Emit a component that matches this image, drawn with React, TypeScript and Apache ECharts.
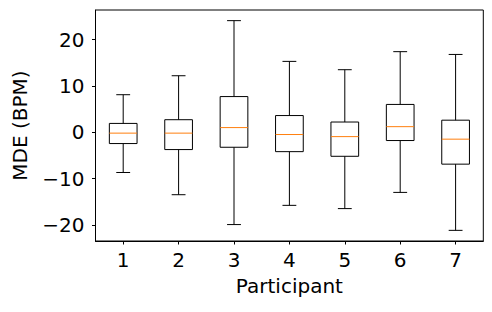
import React, { useEffect, useRef } from "react";
import * as echarts from "echarts";

const participants = ["1", "2", "3", "4", "5", "6", "7"];
const whiskerLow = [-8.7, -13.5, -19.95, -15.8, -16.5, -13.0, -21.2];
const q1 = [-2.45, -3.75, -3.25, -4.2, -5.2, -1.8, -6.9];
const medians = [-0.2, -0.2, 1.0, -0.5, -0.95, 1.2, -1.5];
const q3 = [1.9, 2.7, 7.7, 3.6, 2.2, 6.0, 2.6];
const whiskerHigh = [8.1, 12.2, 24.1, 15.3, 13.5, 17.4, 16.8];
const yTicks = [-20, -10, 0, 10, 20];

const FONT = "DejaVu Sans";

export default function App() {
  const ref = useRef<HTMLDivElement>(null);
  useEffect(() => {
    if (!ref.current) return;
    const chart = echarts.init(ref.current, undefined, { renderer: "svg" });
    const data = participants.map((p, i) => [i, whiskerLow[i], q1[i], medians[i], q3[i], whiskerHigh[i]]);
    chart.setOption({
      animation: false,
      grid: {
        left: 95.5,
        right: 8.7,
        top: 10,
        bottom: 71,
        show: true,
        borderColor: "#000",
        borderWidth: 1,
        backgroundColor: "transparent",
      },
      xAxis: {
        type: "category",
        data: participants,
        boundaryGap: true,
        name: "Participant",
        nameLocation: "middle",
        nameGap: 35,
        nameTextStyle: { fontFamily: FONT, fontSize: 20, color: "#000" },
        axisLine: { show: true, onZero: false, lineStyle: { color: "#000", width: 1 } },
        axisTick: { show: true, alignWithLabel: true, length: 3.5, lineStyle: { color: "#000" } },
        axisLabel: { fontFamily: FONT, fontSize: 20, color: "#000", margin: 9 },
        splitLine: { show: false },
      },
      yAxis: {
        type: "value",
        min: -23.5,
        max: 26.4,
        name: "MDE (BPM)",
        nameLocation: "middle",
        nameGap: 66,
        nameTextStyle: { fontFamily: FONT, fontSize: 20, color: "#000" },
        axisLine: { show: true, onZero: false, lineStyle: { color: "#000", width: 1 } },
        axisTick: { show: true, length: 3.5, lineStyle: { color: "#000" }, customValues: yTicks },
        axisLabel: {
          fontFamily: FONT,
          fontSize: 20,
          color: "#000",
          margin: 11,
          customValues: yTicks,
          formatter: (v: number) => (v < 0 ? "\u2212" + Math.abs(v) : String(v)),
        },
        splitLine: { show: false },
      },
      series: [
        {
          type: "custom",
          data,
          renderItem: (params: any, api: any) => {
            const idx = api.value(0);
            const band = api.size([1, 0])[0];
            const bw = band * 0.5;
            const cw = band * 0.25;
            const pLow = api.coord([idx, api.value(1)]);
            const pQ1 = api.coord([idx, api.value(2)]);
            const pMed = api.coord([idx, api.value(3)]);
            const pQ3 = api.coord([idx, api.value(4)]);
            const pHigh = api.coord([idx, api.value(5)]);
            const cx = pQ1[0];
            const black = { stroke: "#000", lineWidth: 1, fill: "none" };
            return {
              type: "group",
              children: [
                { type: "line", shape: { x1: cx, y1: pLow[1], x2: cx, y2: pQ1[1] }, style: black },
                { type: "line", shape: { x1: cx, y1: pQ3[1], x2: cx, y2: pHigh[1] }, style: black },
                { type: "line", shape: { x1: cx - cw / 2, y1: pLow[1], x2: cx + cw / 2, y2: pLow[1] }, style: black },
                { type: "line", shape: { x1: cx - cw / 2, y1: pHigh[1], x2: cx + cw / 2, y2: pHigh[1] }, style: black },
                {
                  type: "rect",
                  shape: { x: cx - bw / 2, y: pQ3[1], width: bw, height: pQ1[1] - pQ3[1] },
                  style: { stroke: "#000", lineWidth: 1, fill: "none" },
                },
                {
                  type: "line",
                  shape: { x1: cx - bw / 2, y1: pMed[1], x2: cx + bw / 2, y2: pMed[1] },
                  style: { stroke: "#ff7f0e", lineWidth: 1 },
                },
              ],
            };
          },
        },
      ],
    });
    return () => chart.dispose();
  }, []);
  return (
    <div
      ref={ref}
      style={{ position: "fixed", left: 0, top: 0, width: 492, height: 312, background: "#fff" }}
    />
  );
}
